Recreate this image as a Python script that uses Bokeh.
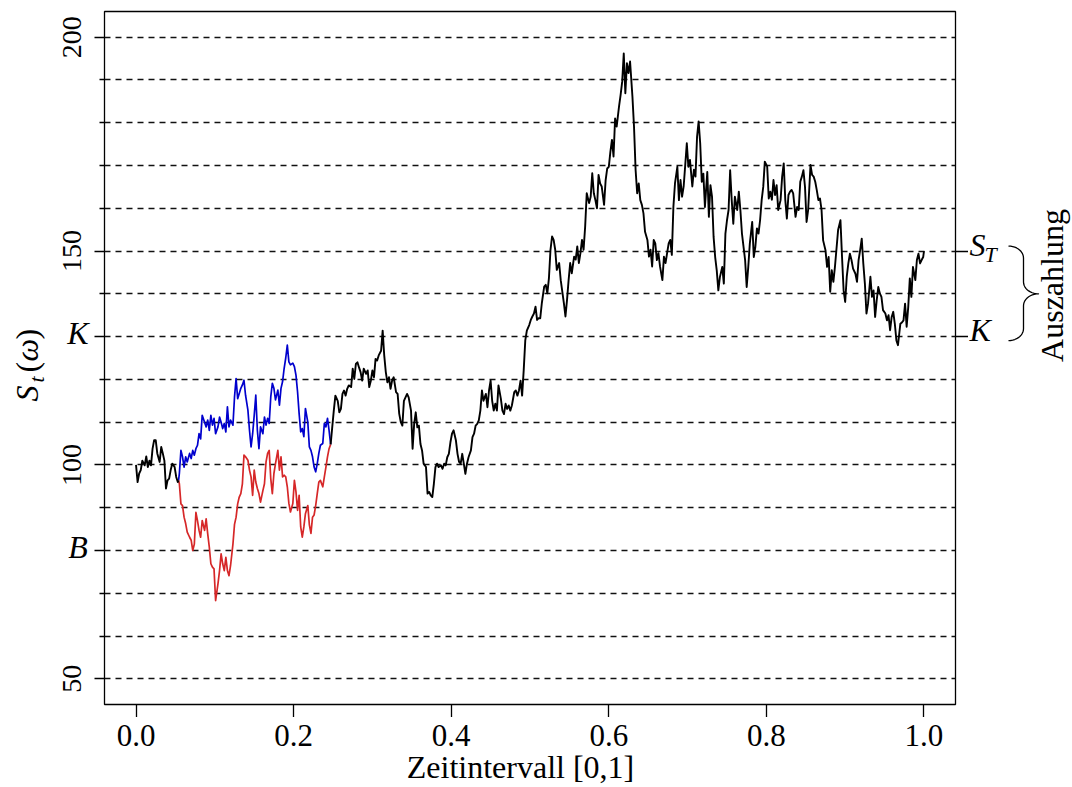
import math
import numpy as np
from bokeh.plotting import figure
from bokeh.layouts import row, column
from bokeh.models import FixedTicker, LinearAxis, Range1d
from bokeh.core.properties import value
from bokeh.embed import file_html
from bokeh.resources import INLINE

# ---------------- data ----------------
K = 130.0
B = 80.0
S_T = 150.0

# common path before the split
t_start = [0.000, 0.002, 0.004, 0.006, 0.008, 0.011, 0.013, 0.015, 0.017, 0.019,
           0.021, 0.023, 0.025, 0.027, 0.030, 0.032, 0.034, 0.036, 0.038, 0.040,
           0.042, 0.044, 0.046, 0.049, 0.051, 0.053, 0.054]
s_start = [100.0, 96.0, 98.0, 98.8, 101.0, 99.9, 102.0, 99.5, 101.0, 99.9,
           103.8, 105.8, 105.8, 102.7, 100.7, 104.2, 102.7, 101.0, 94.5, 96.4,
           96.8, 98.8, 100.3, 99.5, 97.2, 96.0, 96.4]

# two alternative paths between split and re-join
t_branch = [0.054, 0.055, 0.057, 0.059, 0.061,
            0.063, 0.065, 0.068, 0.070, 0.072, 0.074, 0.076, 0.078, 0.080, 0.082,
            0.084, 0.087, 0.089, 0.091, 0.093, 0.095, 0.097, 0.099, 0.101, 0.104,
            0.106, 0.108, 0.110, 0.112, 0.114, 0.116, 0.118, 0.120, 0.123, 0.125,
            0.127, 0.129, 0.131, 0.133, 0.135, 0.137, 0.139, 0.142, 0.144, 0.146,
            0.148, 0.150, 0.152, 0.154, 0.156, 0.158, 0.161, 0.163, 0.165, 0.167,
            0.169, 0.171, 0.173, 0.175, 0.177, 0.180, 0.182, 0.184, 0.186, 0.188,
            0.190, 0.192, 0.194, 0.196, 0.199, 0.201, 0.203, 0.205, 0.207, 0.209,
            0.211, 0.213, 0.215, 0.218, 0.220, 0.222, 0.224, 0.226, 0.228, 0.230,
            0.232, 0.234, 0.237, 0.239, 0.241, 0.243, 0.245, 0.247]
s_up = [96.4, 98.0, 103.4, 101.9, 99.5,
        101.9, 100.7, 102.7, 101.5, 103.4, 102.3, 103.8, 104.6, 107.3, 106.1,
        111.6, 110.0, 108.9, 110.5, 108.1, 111.6, 109.3, 110.9, 107.3, 108.9,
        111.2, 110.0, 108.5, 109.7, 107.7, 113.6, 108.9, 110.5, 109.3, 115.9,
        120.2, 115.5, 116.7, 117.9, 118.7, 119.8, 116.3, 112.8, 108.1, 104.2,
        107.3, 111.6, 116.3, 108.1, 103.8, 108.9, 107.3, 111.2, 109.3, 110.9,
        109.7, 115.9, 119.1, 117.9, 115.2, 117.5, 114.0, 117.9, 119.5, 122.6,
        125.0, 128.0, 124.1, 123.4, 123.8, 123.0, 121.0, 117.1, 112.0, 107.7,
        108.5, 106.6, 113.2, 110.0, 104.2, 103.4, 101.9, 99.5, 98.4, 100.3,
        102.7, 104.6, 105.0, 109.7, 108.9, 110.9, 108.1, 104.8]
s_down = [96.4, 95.6, 90.9, 90.5, 87.8,
          86.3, 84.3, 83.1, 82.4, 80.0, 81.5, 88.9, 87.0, 84.7, 83.1,
          87.0, 84.7, 87.4, 83.9, 80.8, 76.9, 76.1, 75.7, 68.3, 72.2,
          75.3, 79.2, 76.9, 75.3, 78.4, 75.3, 74.1, 76.5, 81.5, 86.1,
          87.8, 90.9, 92.5, 93.3, 95.6, 102.3, 101.9, 101.1, 98.8, 97.2,
          92.9, 98.8, 96.0, 94.5, 93.3, 91.3, 94.0, 95.6, 100.7, 102.7,
          103.4, 96.8, 93.3, 98.0, 100.3, 103.4, 98.8, 101.9, 97.2, 97.6,
          97.2, 94.9, 91.0, 89.0, 91.0, 96.4, 93.7, 89.4, 92.9, 85.5,
          83.1, 85.5, 88.6, 90.5, 86.0, 84.0, 87.8, 88.3, 90.5, 93.3,
          96.0, 96.4, 94.9, 97.2, 99.5, 101.9, 103.8, 104.8]

# common path after the re-join
t_main = [0.247, 0.249, 0.251,
          0.253, 0.256, 0.258, 0.260, 0.262, 0.264, 0.266, 0.268, 0.270, 0.273,
          0.275, 0.277, 0.279, 0.281, 0.283, 0.285, 0.287, 0.289, 0.292, 0.294,
          0.296, 0.298, 0.300, 0.302, 0.304, 0.306, 0.308, 0.311, 0.313, 0.315,
          0.317, 0.319, 0.321, 0.323, 0.325, 0.327, 0.330, 0.332, 0.334, 0.336,
          0.338, 0.340, 0.342, 0.344, 0.346, 0.349, 0.351, 0.353, 0.355, 0.357,
          0.359, 0.361, 0.363, 0.365, 0.368, 0.370, 0.372, 0.374, 0.376, 0.378,
          0.380, 0.382, 0.384, 0.387, 0.389, 0.391, 0.393, 0.395, 0.397, 0.399,
          0.401, 0.403, 0.406, 0.408, 0.410, 0.412, 0.414, 0.416, 0.418, 0.420,
          0.422, 0.425, 0.427, 0.429, 0.431, 0.433, 0.435, 0.437, 0.439, 0.441,
          0.444, 0.446, 0.448, 0.450, 0.452, 0.454, 0.456, 0.458, 0.460, 0.463,
          0.465, 0.467, 0.469, 0.471, 0.473, 0.475, 0.477, 0.480, 0.482, 0.484,
          0.486, 0.488, 0.490, 0.492, 0.494, 0.496, 0.499, 0.501, 0.503, 0.505,
          0.507, 0.509, 0.511, 0.513, 0.515, 0.518, 0.520, 0.522, 0.524, 0.526,
          0.528, 0.530, 0.532, 0.534, 0.537, 0.539, 0.541, 0.543, 0.545, 0.547,
          0.549, 0.551, 0.553, 0.556, 0.558, 0.560, 0.562, 0.564, 0.566, 0.568,
          0.570, 0.572, 0.575, 0.577, 0.579, 0.581, 0.583, 0.585, 0.587, 0.589,
          0.591, 0.594, 0.596, 0.598, 0.600, 0.602, 0.604, 0.606, 0.608, 0.610,
          0.613, 0.615, 0.617, 0.619, 0.621, 0.623, 0.625, 0.627, 0.630, 0.632,
          0.634, 0.636, 0.638, 0.640, 0.642, 0.644, 0.646, 0.649, 0.651, 0.653,
          0.655, 0.657, 0.659, 0.661, 0.663, 0.665, 0.668, 0.670, 0.672, 0.674,
          0.676, 0.678, 0.680, 0.682, 0.684, 0.687, 0.689, 0.691, 0.693, 0.695,
          0.697, 0.699, 0.701, 0.703, 0.706, 0.708, 0.710, 0.712, 0.714, 0.716,
          0.718, 0.720, 0.722, 0.725, 0.727, 0.729, 0.731, 0.733, 0.735, 0.737,
          0.739, 0.741, 0.744, 0.746, 0.748, 0.750, 0.752, 0.754, 0.756, 0.758,
          0.760, 0.763, 0.765, 0.767, 0.769, 0.771, 0.773, 0.775, 0.777, 0.779,
          0.782, 0.784, 0.786, 0.788, 0.790, 0.792, 0.794, 0.796, 0.798, 0.801,
          0.803, 0.805, 0.807, 0.809, 0.811, 0.813, 0.815, 0.818, 0.820, 0.822,
          0.824, 0.826, 0.828, 0.830, 0.832, 0.834, 0.837, 0.839, 0.841, 0.843,
          0.845, 0.847, 0.849, 0.851, 0.853, 0.856, 0.858, 0.860, 0.862, 0.864,
          0.866, 0.868, 0.870, 0.872, 0.875, 0.877, 0.879, 0.881, 0.883, 0.885,
          0.887, 0.889, 0.891, 0.894, 0.896, 0.898, 0.900, 0.902, 0.904, 0.906,
          0.908, 0.910, 0.913, 0.915, 0.917, 0.919, 0.921, 0.923, 0.925, 0.927,
          0.929, 0.932, 0.934, 0.936, 0.938, 0.940, 0.942, 0.944, 0.946, 0.948,
          0.951, 0.953, 0.955, 0.957, 0.959, 0.961, 0.963, 0.965, 0.967, 0.970,
          0.972, 0.974, 0.976, 0.978, 0.980, 0.982, 0.984, 0.986, 0.989, 0.991,
          0.993, 0.995, 0.997, 0.999, 1.000]
s_main = [104.8, 108.8, 112.7,
          116.2, 115.0, 112.3, 113.1, 116.6, 117.4, 116.2, 117.8, 118.6, 118.2,
          122.5, 120.1, 123.6, 124.0, 122.8, 121.7, 119.7, 122.5, 121.3, 122.1,
          118.2, 119.7, 122.1, 120.5, 124.8, 124.4, 125.6, 126.7, 131.4, 125.6,
          121.7, 119.3, 120.5, 117.8, 119.7, 120.5, 117.0, 116.6, 112.0, 110.0,
          109.2, 115.0, 115.8, 116.6, 115.8, 112.7, 103.8, 109.6, 112.3, 108.8,
          109.2, 104.9, 103.4, 100.3, 99.5, 93.3, 93.7, 92.9, 92.5, 95.6,
          99.5, 100.3, 99.5, 99.9, 99.1, 100.3, 99.9, 101.8, 102.6, 105.3,
          107.3, 108.1, 105.7, 102.6, 100.7, 100.3, 102.6, 100.3, 97.9, 100.3,
          101.8, 103.4, 106.5, 107.3, 109.2, 109.6, 110.4, 112.7, 117.4, 115.0,
          116.6, 113.5, 117.4, 119.7, 115.0, 112.7, 114.3, 112.7, 118.6, 115.5,
          112.7, 111.9, 114.3, 113.1, 113.9, 112.7, 113.9, 117.0, 117.4, 116.2,
          117.4, 119.7, 116.2, 122.1, 129.1, 131.4, 132.7, 133.9, 134.7, 135.4,
          137.0, 133.9, 134.3, 134.3, 137.8, 141.7, 142.1, 140.1, 143.6, 150.3,
          153.4, 152.6, 150.3, 145.6, 147.2, 143.2, 140.5, 137.8, 134.7, 138.6,
          143.2, 147.2, 144.8, 148.7, 148.0, 151.1, 147.2, 149.5, 152.6, 150.3,
          155.7, 163.5, 161.2, 162.7, 168.2, 163.5, 161.9, 160.0, 167.8, 165.8,
          165.1, 160.8, 166.6, 169.3, 169.7, 173.2, 176.0, 172.1, 181.0, 179.1,
          183.8, 186.5, 189.6, 196.2, 186.9, 193.9, 191.6, 194.3, 186.1, 179.1,
          169.0, 163.5, 165.8, 161.9, 160.8, 158.8, 154.5, 152.6, 148.7, 150.3,
          146.4, 152.6, 151.8, 147.9, 149.5, 146.4, 143.2, 148.7, 147.2, 149.5,
          151.8, 152.6, 149.1, 160.4, 165.8, 169.7, 161.9, 166.6, 162.7, 165.1,
          170.1, 175.2, 169.7, 171.3, 165.1, 169.0, 167.4, 176.7, 180.3, 175.2,
          166.2, 168.1, 160.3, 168.5, 158.0, 165.4, 162.7, 153.3, 148.6, 145.5,
          140.8, 143.9, 146.3, 142.4, 154.1, 157.2, 159.6, 168.9, 161.9, 156.4,
          162.7, 159.6, 163.9, 159.6, 154.1, 151.0, 147.9, 141.6, 146.3, 151.8,
          156.8, 148.6, 151.0, 155.3, 154.1, 157.2, 161.9, 165.0, 170.9, 169.8,
          162.3, 163.9, 162.0, 166.6, 163.1, 165.4, 159.6, 161.9, 167.4, 170.5,
          161.9, 157.6, 163.1, 163.9, 164.3, 163.5, 158.0, 160.3, 159.6, 166.2,
          167.4, 168.9, 165.0, 156.8, 159.6, 170.1, 167.8, 167.4, 166.2, 164.2,
          161.9, 162.3, 159.6, 152.5, 150.2, 146.3, 148.6, 140.5, 145.5, 142.8,
          146.3, 150.6, 154.9, 157.2, 148.6, 140.8, 138.1, 144.0, 147.1, 149.4,
          147.9, 145.9, 144.7, 142.8, 147.9, 150.2, 152.9, 147.1, 142.4, 135.4,
          137.7, 144.0, 139.3, 140.8, 134.6, 138.5, 141.6, 140.1, 139.3, 136.2,
          135.4, 133.8, 135.0, 131.5, 134.6, 135.8, 133.0, 129.1, 128.0, 133.0,
          133.3, 133.8, 137.7, 132.3, 136.9, 143.6, 139.3, 146.3, 143.2, 147.9,
          149.4, 147.1, 147.9, 148.6, 150.0]

grid_levels = [50, 60, 70, 80, 90, 100, 110, 120, 130, 140, 150, 160, 170, 180, 190, 200]
y_major = [50, 80, 100, 130, 150, 200]
y_minor = [60, 70, 90, 110, 120, 140, 160, 170, 180, 190]
y_number_ticks = [50, 100, 150, 200]
y_number_labels = ["50", "100", "150", "200"]
y_letter_ticks = [K, B]
y_letter_labels = ["K", "B"]
x_ticks = [0.0, 0.2, 0.4, 0.6, 0.8, 1.0]
x_tick_labels = ["0.0", "0.2", "0.4", "0.6", "0.8", "1.0"]

# ---------------- layout ----------------
X0, X1, Y0, Y1 = -0.04, 1.04, 44.0, 206.0
FRAME_L, FRAME_T, FRAME_W, FRAME_H = 104, 11, 851, 693
L_W, M_W, R_W = 92, 876, 104
TOP_H = 717            # frame bottom (704) + tick length
BOT_H = 787 - TOP_H
FONT = "Liberation Serif"
FS = "32px"
KX = (X1 - X0) / FRAME_W   # x data units per pixel
BL = 0.39                  # baseline correction (fraction of font size)


def val_y(py):
    """page-pixel y -> data value (shared y scale)"""
    return Y1 - (py - FRAME_T) * (Y1 - Y0) / FRAME_H


def page_y(v):
    return FRAME_T + (Y1 - v) * FRAME_H / (Y1 - Y0)


def dy(px):
    return px * (Y1 - Y0) / FRAME_H


def side_fig(w, h, xr, yr):
    f = figure(width=w, height=h, output_backend="svg", toolbar_location=None, tools="",
               title=None, x_range=xr, y_range=yr, x_axis_location=None, y_axis_location=None,
               min_border=0)
    f.outline_line_color = None
    f.background_fill_color = "white"
    f.border_fill_color = "white"
    f.xgrid.visible = False
    f.ygrid.visible = False
    return f


# ---------- main plot ----------
yr = Range1d(Y0, Y1)
p = figure(width=M_W, height=TOP_H, output_backend="svg", toolbar_location=None,
           tools="", title=None, x_range=Range1d(X0, X1), y_range=yr,
           min_border=0, min_border_left=FRAME_L - L_W, min_border_right=13,
           min_border_top=FRAME_T, min_border_bottom=TOP_H - FRAME_T - FRAME_H)
p.background_fill_color = "white"
p.border_fill_color = "white"
p.outline_line_color = "black"
p.outline_line_alpha = 1.0
p.outline_line_width = 1.3

p.xgrid.visible = False
p.ygrid.ticker = FixedTicker(ticks=grid_levels)
p.ygrid.grid_line_color = "#111111"
p.ygrid.grid_line_dash = "6 5"
p.ygrid.grid_line_width = 1.3
p.ygrid.grid_line_alpha = 1.0

xa = p.xaxis[0]
xa.ticker = FixedTicker(ticks=x_ticks, minor_ticks=[])
xa.major_label_overrides = {v: "" for v in x_ticks}
xa.major_label_text_font_size = "0px"
xa.major_label_standoff = 0
xa.axis_line_color = None
xa.major_tick_out = 13
xa.major_tick_in = 0
xa.major_tick_line_width = 1.3
xa.major_tick_line_color = "black"
xa.minor_tick_line_color = None

ya = p.yaxis[0]
ya.ticker = FixedTicker(ticks=y_major, minor_ticks=y_minor)
ya.major_label_overrides = {v: "" for v in y_major}
ya.major_label_text_font_size = "0px"
ya.major_label_standoff = 0
ya.axis_line_color = None
ya.major_tick_out = 10
ya.major_tick_in = 0
ya.minor_tick_out = 5
ya.minor_tick_in = 0
ya.major_tick_line_width = 1.3
ya.minor_tick_line_width = 1.3
ya.major_tick_line_color = "black"
ya.minor_tick_line_color = "black"

ra = LinearAxis(ticker=FixedTicker(ticks=[K, S_T], minor_ticks=[]))
ra.major_label_overrides = {K: "", S_T: ""}
ra.major_label_text_font_size = "0px"
ra.major_label_standoff = 0
ra.axis_line_color = None
ra.major_tick_out = 13
ra.major_tick_in = 0
ra.major_tick_line_width = 1.3
ra.major_tick_line_color = "black"
ra.minor_tick_line_color = None
p.add_layout(ra, "right")

p.line(t_branch, s_up, line_color="#0000cd", line_width=1.7, line_join="round")
p.line(t_branch, s_down, line_color="#d62728", line_width=1.7, line_join="round")
p.line(t_start, s_start, line_color="black", line_width=1.9, line_join="round")
p.line(t_main, s_main, line_color="black", line_width=1.9, line_join="round")

# ---------- left strip: y tick labels and y title ----------
L = side_fig(L_W, TOP_H, Range1d(0, L_W), yr)
L.min_border_top = FRAME_T
L.min_border_bottom = TOP_H - FRAME_T - FRAME_H
L.text(x=[82 - BL * 28] * len(y_number_ticks), y=y_number_ticks, text=y_number_labels,
       angle=math.pi / 2, text_align="center", text_baseline="alphabetic",
       text_font=value(FONT), text_font_size=value("28px"), text_color="black")
L.text(x=[77.5] * len(y_letter_ticks), y=[v - dy(9 - BL * 32) for v in y_letter_ticks],
       text=y_letter_labels, text_align="center", text_baseline="alphabetic",
       text_font=value(FONT), text_font_size=value(FS), text_font_style="italic",
       text_color="black")
# S_t(omega), rotated
YT_X = 39 - BL * 32
L.text(x=[YT_X], y=[val_y(401)], text=["S"], angle=math.pi / 2, text_align="left",
       text_baseline="alphabetic", text_font=value(FONT), text_font_size=value(FS),
       text_font_style="italic", text_color="black")
L.text(x=[45 - BL * 22], y=[val_y(382)], text=["t"], angle=math.pi / 2, text_align="left",
       text_baseline="alphabetic", text_font=value(FONT), text_font_size=value("22px"),
       text_font_style="italic", text_color="black")
L.text(x=[YT_X], y=[val_y(372)], text=["("], angle=math.pi / 2, text_align="left",
       text_baseline="alphabetic", text_font=value(FONT), text_font_size=value(FS),
       text_color="black")
L.text(x=[YT_X], y=[val_y(361)], text=["ω"], angle=math.pi / 2, text_align="left",
       text_baseline="alphabetic", text_font=value(FONT), text_font_size=value(FS),
       text_font_style="italic", text_color="black")
L.text(x=[YT_X], y=[val_y(339)], text=[")"], angle=math.pi / 2, text_align="left",
       text_baseline="alphabetic", text_font=value(FONT), text_font_size=value(FS),
       text_color="black")

# ---------- right strip: S_T, K, brace, Auszahlung ----------
R = side_fig(R_W, TOP_H, Range1d(968, 1072), yr)
R.min_border_top = FRAME_T
R.min_border_bottom = TOP_H - FRAME_T - FRAME_H
R.text(x=[969, 969], y=[S_T - dy(6 - BL * 32), K - dy(6 - BL * 32)], text=["S", "K"],
       text_align="left", text_baseline="alphabetic", text_font=value(FONT),
       text_font_size=value(FS), text_font_style="italic", text_color="black")
R.text(x=[984], y=[S_T - dy(12 - BL * 22)], text=["T"], text_align="left",
       text_baseline="alphabetic", text_font=value(FONT), text_font_size=value("22px"),
       text_font_style="italic", text_color="black")

top = page_y(S_T) - 5
bot = page_y(K) + 4
mid = (page_y(S_T) + page_y(K)) / 2
xe, xs, xt = 1008.0, 1023.0, 1038.0
rx, ry = 15.0, 12.0
bx, by = [], []
for c_x, c_y, a0, a1 in [(xe, top + ry, -90, 0), (xt, mid - ry, 180, 90),
                         (xt, mid + ry, -90, -180), (xe, bot - ry, 0, 90)]:
    for th in np.linspace(a0, a1, 12):
        a = math.radians(th)
        bx.append(c_x + rx * math.cos(a))
        by.append(val_y(c_y + ry * math.sin(a)))
R.line(bx, by, line_color="black", line_width=1.3, line_join="round")
R.text(x=[1064 - BL * 32], y=[val_y(285)], text=["Auszahlung"], angle=math.pi / 2,
       text_align="center", text_baseline="alphabetic", text_font=value(FONT),
       text_font_size=value(FS), text_color="black")

# ---------- bottom strip: x tick labels and x title ----------
TICK_FS = 31
Bt = side_fig(1072, BOT_H, Range1d(X0 - FRAME_L * KX, X1 + (1072 - FRAME_L - FRAME_W) * KX),
              Range1d(787, TOP_H))
Bt.text(x=x_ticks, y=[747 - BL * TICK_FS] * len(x_ticks), text=x_tick_labels,
        text_align="center", text_baseline="alphabetic", text_font=value(FONT),
        text_font_size=value(f"{TICK_FS}px"), text_color="black")
Bt.text(x=[X0 + (520 - FRAME_L) * KX], y=[779 - BL * 32], text=["Zeitintervall [0,1]"],
        text_align="center", text_baseline="alphabetic", text_font=value(FONT),
        text_font_size=value(FS), text_color="black")

layout = column(row(L, p, R), Bt)
open("out.html", "w").write(file_html(layout, INLINE))
